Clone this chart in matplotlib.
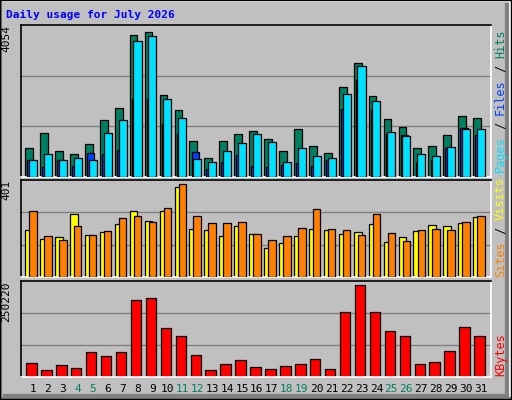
import matplotlib
matplotlib.use("Agg")
import matplotlib.pyplot as plt
import numpy as np

days = list(range(1, 32))
weekend = [4, 5, 11, 12, 18, 19, 25, 26]

hits = [800, 1213, 717, 634, 910, 1600, 1930, 3971, 4054, 2289, 1875, 993, 524, 993, 1186, 1296,
        1048, 717, 1351, 855, 662, 2510, 3172, 2262, 1627, 1407, 800, 855, 1158, 1710, 1655]
files = [469, 634, 469, 524, 469, 1213, 1600, 3778, 3916, 2178, 1655, 497, 413, 717, 938, 1186,
         965, 413, 800, 579, 524, 2316, 3088, 2123, 1241, 1131, 634, 579, 827, 1351, 1324]
pages = [469, 275, 469, 303, 662, 634, 745, 2178, 2178, 1489, 1186, 690, 220, 413, 607, 303,
         275, 331, 386, 303, 469, 1903, 2703, 1875, 1186, 1158, 413, 469, 800, 1379, 1158]
sites = [204, 165, 174, 274, 182, 195, 230, 283, 243, 287, 388, 208, 204, 178, 222, 187,
         125, 147, 178, 208, 204, 187, 195, 230, 152, 174, 200, 226, 222, 235, 261]
visits = [287, 178, 160, 222, 182, 200, 257, 265, 239, 296, 401, 265, 235, 235, 239, 187,
          160, 178, 213, 292, 208, 204, 182, 274, 191, 156, 204, 208, 204, 239, 265]
kbytes = [39268, 20090, 33788, 25570, 69403, 58445, 69403, 209123, 214603, 132414, 110497,
          61184, 20090, 36528, 47486, 28309, 22830, 31049, 36528, 50226, 22830, 176248,
          250220, 176248, 124195, 110497, 36528, 42007, 72143, 135154, 110497]

BG = "#C0C0C0"
MONO = "DejaVu Sans Mono"
W, H = 512, 400

fig = plt.figure(figsize=(W / 100, H / 100), dpi=100, facecolor=BG)

# outer 3D border, drawn in pixel coordinates
border = fig.add_axes([0, 0, 1, 1])
border.set_xlim(0, W)
border.set_ylim(H, 0)
border.axis("off")
border.plot([1, W - 2, W - 2], [1, 1, H - 2], color="white", lw=1.5)
border.plot([1, 1, W - 2], [1, H - 2, H - 2], color="#808080", lw=1.5)
border.plot([0, 0, W - 1, W - 1, 0], [0, H - 1, H - 1, 0, 0], color="black", lw=1)
border.plot([5, W - 5], [H - 4, H - 4], color="#808080", lw=3)
border.plot([W - 5, W - 5], [5, H - 4], color="#808080", lw=3)
border.text(6, 15, "Daily usage for July 2026", color="#0000FF", fontsize=8,
            fontweight="bold", family=MONO, va="center")

x = np.array(days, dtype=float)


def panel(top, bottom, vmax):
    left, right = 21, 491
    ax = fig.add_axes([left / W, 1 - bottom / H, (right - left) / W, (bottom - top) / H])
    ax.set_facecolor(BG)
    ax.set_xlim(0.2, 31.67)
    ax.set_ylim(0, vmax * 1.045)
    for frac in (1 / 3, 2 / 3):
        ax.axhline(vmax * 1.045 * frac, color="#808080", lw=1, zorder=0)
    ax.set_xticks([])
    ax.set_yticks([])
    for side in ("top", "left"):
        ax.spines[side].set_color("black")
        ax.spines[side].set_linewidth(1.2)
    for side in ("bottom", "right"):
        ax.spines[side].set_color("white")
        ax.spines[side].set_linewidth(1.2)
    ax.text(-0.02, 1.0, f"{vmax}", transform=ax.transAxes, rotation=90, ha="right",
            va="top", fontsize=8, family=MONO)
    return ax


bar_kw = dict(edgecolor="black", linewidth=0.9, align="edge")

ax1 = panel(25, 177, max(hits))
ax1.bar(x - 0.52, hits, width=0.52, color="#008060", zorder=2, **bar_kw)
ax1.bar(x - 0.38, pages, width=0.49, color="#0040FF", zorder=3, **bar_kw)
ax1.bar(x - 0.27, files, width=0.54, color="#00E0FF", zorder=4, **bar_kw)

ax2 = panel(180, 277, max(visits))
ax2.bar(x - 0.52, sites, width=0.52, color="#FFFF00", zorder=2, **bar_kw)
ax2.bar(x - 0.25, visits, width=0.5, color="#FF8000", zorder=3, **bar_kw)

ax3 = panel(281, 377, max(kbytes))
ax3.bar(x - 0.45, kbytes, width=0.7, color="#FF0000", zorder=2, **bar_kw)

CHAR = 7.15  # pixels per monospace character, measured on the reference


def side_label(bottom_px, parts):
    # parts listed bottom-to-top, text rotated to read upward
    y = bottom_px
    for text, color in parts:
        border.text(494, y, text, rotation=90, ha="left", va="bottom",
                    color=color, fontsize=8.5, family=MONO)
        y -= len(text) * CHAR


side_label(172, [("Pages", "#00E0FF"), (" / ", "black"), ("Files", "#0040FF"),
                 (" / ", "black"), ("Hits", "#008060")])
side_label(277, [("Sites", "#FF8000"), (" / ", "black"), ("Visits", "#FFFF00")])
side_label(376, [("KBytes", "#FF0000")])

for d in days:
    px = 33 + 14.93 * (d - 1)
    border.text(px, 389, str(d), ha="center", va="center", fontsize=8, family=MONO,
                color="#008060" if d in weekend else "black")

fig.savefig("out.png", dpi=100, facecolor=BG)
